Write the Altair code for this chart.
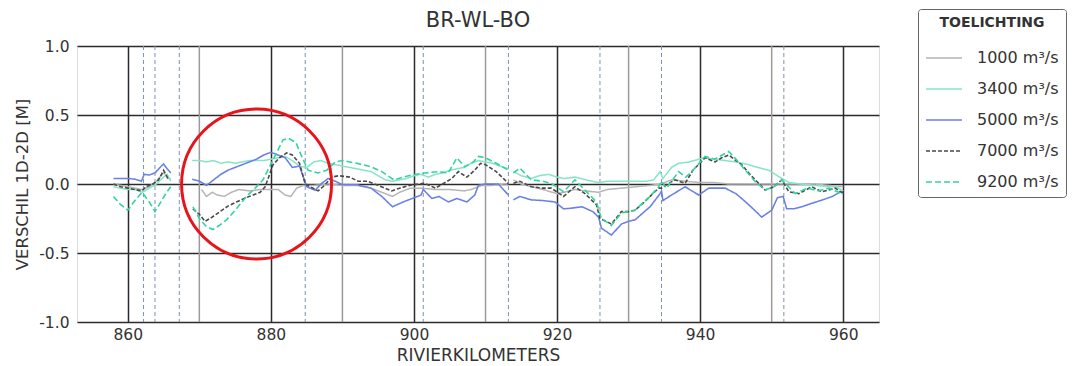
import altair as alt
import pandas as pd

# ---------------- data ----------------
series_labels = ["1000 m³/s", "3400 m³/s", "5000 m³/s", "7000 m³/s", "9200 m³/s"]
series_colors = ["#b5b5b5", "#86e6c4", "#6a80e6", "#4a4a4a", "#33d49c"]

q1000_km = [858, 859, 860, 861, 862, 863, 864, 865, 865.5, 866,
            870.3, 871, 871.8, 872.5, 873.5, 874.5, 875.5, 877, 878.5, 880, 881, 882, 882.8, 883.6, 884.5, 886, 888,
            890, 892, 894, 896, 897, 898, 899.5, 901, 903, 905, 907, 908, 909.5, 911, 912.5, 913.2,
            913.9, 915, 916.5, 918, 920, 921, 922.5, 924, 925.8, 927, 929, 931, 933, 934.5, 936, 938, 940, 942,
            944, 946, 948, 950, 952, 954, 956, 958, 960]
q1000_val = [0.0, -0.01, -0.02, -0.03, -0.04, -0.02, 0.02, 0.08, 0.06, 0.03,
             -0.04, -0.09, -0.06, -0.08, -0.09, -0.06, -0.04, -0.05, -0.04, -0.04, -0.04, -0.08, -0.09, -0.03, -0.01, -0.01, 0.0,
             -0.01, -0.01, -0.03, -0.07, -0.09, -0.06, -0.03, -0.03, -0.04, -0.04, -0.05, -0.04, -0.01, -0.01, 0.0, 0.0,
             0.03, 0.0, -0.02, -0.04, -0.07, -0.06, -0.04, -0.05, -0.06, -0.04, -0.03, -0.02, -0.01, 0.0, 0.03, 0.02, 0.01, 0.01,
             0.0, 0.0, 0.0, 0.0, 0.0, 0.0, 0.0, -0.01, -0.02]

q3400_km = [858, 859, 860, 861, 862, 863, 864, 865, 865.5, 866,
            869, 870, 871, 872, 873, 874, 875, 876, 877, 878, 879, 880, 881, 882, 883, 884, 885, 886, 887, 888,
            889, 890, 891, 892, 893, 894, 895, 896, 897, 898, 899, 900, 901, 902, 903, 904, 905, 906, 907, 908,
            909, 910, 911, 912, 913.2,
            913.9, 915, 916.4, 917.5, 918.8, 920, 921, 922.5, 924, 925.8, 927, 929, 931, 932.5, 933.5, 934.4,
            934.8, 936, 937, 938.5, 940.5, 942, 943.5, 945, 946.8, 948, 949.6, 950.5, 951.4, 952.5, 954, 956,
            958, 959, 960]
q3400_val = [-0.02, -0.03, -0.04, -0.04, -0.06, -0.03, 0.0, 0.05, 0.07, 0.02,
             0.17, 0.17, 0.16, 0.17, 0.15, 0.16, 0.15, 0.16, 0.17, 0.17, 0.17, 0.18, 0.19, 0.2, 0.17, 0.13, 0.12, 0.16, 0.17, 0.15,
             0.14, 0.13, 0.12, 0.11, 0.1, 0.09, 0.06, 0.03, 0.02, 0.03, 0.04, 0.06, 0.07, 0.05, 0.07, 0.08, 0.1, 0.11, 0.12, 0.15,
             0.17, 0.16, 0.15, 0.13, 0.11,
             0.09, 0.06, 0.04, 0.06, 0.07, 0.05, 0.04, 0.05, 0.03, 0.01, 0.02, 0.02, 0.02, 0.02, 0.03, 0.09,
             0.04, 0.12, 0.15, 0.16, 0.19, 0.18, 0.17, 0.16, 0.14, 0.12, 0.1, 0.07, 0.04, 0.01, 0.0, -0.01,
             -0.02, -0.02, -0.05]

q5000_km = [858, 859, 860, 861, 861.9, 862.3, 863, 863.8, 864.5, 865, 865.5, 866,
            869, 870, 871, 872, 873, 874, 875, 876, 877, 878, 879, 880, 881, 882, 883, 884, 885, 886.2, 887, 888,
            889, 890, 892, 894, 895.5, 897, 898.5, 900, 901, 901.3, 902.5, 903.5, 904.8, 906, 907.4, 908.5, 909,
            910, 911.8, 913.2,
            913.9, 914.8, 916.4, 918, 919.7, 920.9, 922, 923.5, 925, 925.8, 926.2, 927.6, 929, 930, 930.9, 932,
            933, 934.4, 934.6, 934.8, 936, 937.9, 939.8, 941.2, 943.5, 945, 945.8, 947, 948.6, 950, 950.8, 951.6,
            952.1, 953.1, 954.5, 955.6, 957, 958.5, 959.6, 960]
q5000_val = [0.04, 0.04, 0.04, 0.035, 0.02, 0.07, 0.065, 0.08, 0.12, 0.145, 0.11, 0.08,
             0.035, 0.02, -0.01, 0.03, 0.07, 0.1, 0.12, 0.14, 0.16, 0.18, 0.21, 0.23, 0.21, 0.19, 0.12, 0.13, -0.02, -0.045, 0.0, 0.04,
             0.02, -0.005, -0.005, -0.03, -0.09, -0.165, -0.13, -0.1, -0.08, -0.04, -0.105, -0.09, -0.13, -0.105, -0.13, -0.08, -0.01,
             0.0, 0.0, -0.08,
             -0.115, -0.09, -0.115, -0.12, -0.13, -0.18, -0.175, -0.165, -0.2, -0.24, -0.32, -0.37, -0.29, -0.27, -0.26, -0.21,
             -0.165, -0.07, -0.05, -0.12, -0.08, -0.02, -0.08, -0.03, -0.03, -0.07, -0.105, -0.16, -0.24, -0.19, -0.1, -0.09,
             -0.18, -0.18, -0.16, -0.14, -0.117, -0.09, -0.056, -0.07]

q7000_km = [858, 859, 860, 861, 862, 862.5, 863.5, 864.3, 865, 865.7,
            869.1, 870, 870.8, 871.5, 872.9, 874, 875.2, 876.5, 877.5, 878.5, 879.2, 880.3, 881.2, 882.2, 883, 884,
            884.8, 885.5, 886.6, 887.5, 888.5, 889.5, 891, 892.2, 893.5, 895, 896.9, 898, 899.7, 901.5, 903, 904,
            905.3, 906.2, 907.4, 908.5, 909.3, 910, 911.5, 912.7, 913.2,
            913.9, 914.8, 916.4, 918, 919.2, 920.9, 922.5, 923.9, 925.5, 926, 927.6, 929, 930, 930.9, 932, 933,
            934.2, 934.6, 935.5, 936.5, 937.9, 939, 940.7, 942.1, 943, 944, 945, 945.8, 946.8, 947.7, 949.1, 950.3,
            951.4, 952.4, 953.8, 955.6, 957, 958.9, 959.6, 960]
q7000_val = [0.0, -0.02, -0.03, -0.04, -0.05, -0.02, 0.0, 0.03, 0.1, 0.03,
             -0.18, -0.22, -0.27, -0.25, -0.2, -0.16, -0.13, -0.1, -0.08, -0.06, -0.02, 0.14, 0.19, 0.225, 0.21, 0.15,
             0.0, -0.02, -0.05, -0.01, 0.05, 0.06, 0.05, 0.02, 0.02, -0.01, -0.05, -0.03, -0.007, 0.005, -0.03, 0.0,
             0.04, 0.09, 0.05, 0.1, 0.15, 0.14, 0.09, 0.03, 0.0,
             0.005, 0.02, -0.02, -0.03, -0.03, -0.09, -0.02, -0.07, -0.15, -0.25, -0.29, -0.2, -0.2, -0.19, -0.14, -0.09,
             -0.03, -0.03, 0.0, 0.03, 0.005, 0.1, 0.19, 0.16, 0.19, 0.21, 0.17, 0.14, 0.08, 0.03, -0.044, -0.02,
             0.03, -0.056, -0.07, -0.02, -0.056, -0.03, -0.056, -0.06]

q9200_km = [858, 859, 860, 861, 862, 863, 863.8, 864.5, 865.3, 866,
            869.1, 870, 871, 871.9, 872.8, 873.8, 875, 876.6, 877.8, 878.9, 880.3, 881.7, 882.5, 883.5, 884.3, 885.2,
            886.6, 887.8, 889, 890, 892, 894, 895.5, 897.2, 898.5, 899.7, 901.5, 903.4, 904.8, 906, 907.1, 908.3,
            909, 910, 911.5, 912.7, 913.2,
            913.9, 914.8, 916.4, 918, 919.2, 920.9, 922.5, 923.9, 925.5, 926.2, 927.6, 929, 930.9, 933, 934.2, 934.6,
            935.3, 937, 938, 939, 940.7, 942, 944, 945, 946, 947.7, 949.1, 950.3, 951.4, 953.3, 955, 956.5, 958, 959.8]
q9200_val = [-0.09, -0.15, -0.19, -0.12, -0.06, -0.13, -0.2, -0.14, -0.07, -0.02,
             -0.165, -0.25, -0.31, -0.33, -0.3, -0.26, -0.19, -0.09, -0.03, 0.03, 0.175, 0.32, 0.33, 0.3, 0.2, 0.1,
             0.08, 0.1, 0.16, 0.17, 0.15, 0.125, 0.09, 0.03, 0.05, 0.065, 0.08, 0.09, 0.08, 0.19, 0.125, 0.16,
             0.2, 0.19, 0.15, 0.115, 0.1,
             0.08, 0.115, 0.03, 0.02, 0.005, -0.056, 0.03, -0.044, -0.13, -0.25, -0.3, -0.21, -0.19, -0.09, -0.02, 0.02,
             -0.03, 0.09, 0.05, 0.1, 0.2, 0.18, 0.235, 0.18, 0.12, 0.017, -0.044, -0.02, 0.03, -0.07, -0.03, -0.05, -0.03, -0.07]

major_km = [860, 880, 900, 920, 940, 960]
minor_km = [870, 890, 910, 930, 950]
section_km = [862.2, 863.8, 867.2, 884.8, 901.3, 913.2, 926.0, 934.6, 951.7]
y_ticks = [-1.0, -0.5, 0.0, 0.5, 1.0]
circle_km = [878.0]
circle_val = [0.0]
chart_title = "BR-WL-BO"

# ---------------- build table ----------------
rows = []
all_series = [(q1000_km, q1000_val), (q3400_km, q3400_val), (q5000_km, q5000_val),
              (q7000_km, q7000_val), (q9200_km, q9200_val)]
for i, (kms, vals) in enumerate(all_series):
    for k, v in zip(kms, vals):
        seg = 0 if k < 867 else (1 if k < 913.5 else 2)
        rows.append({"km": k, "val": v, "serie": series_labels[i], "seg": f"{i}-{seg}"})
df = pd.DataFrame(rows)

FONT = "DejaVu Sans"
TXT = "#333333"
W, H = 802, 276
x_scale = alt.Scale(domain=[852.9, 965], nice=False, zero=False)
y_scale = alt.Scale(domain=[-1, 1], nice=False)

legend_cfg = dict(
    title="TOELICHTING", orient="none", legendX=841, legendY=-37,
    strokeColor="#666666", fillColor="white", cornerRadius=3, padding=7,
    symbolType="stroke", symbolSize=1296, symbolStrokeWidth=2,
    labelFont=FONT, labelFontSize=16, labelColor=TXT, labelOffset=14,
    titleFont=FONT, titleFontSize=14, titleFontWeight="bold", titleColor=TXT,
    titleAnchor="middle", titleAlign="center", titlePadding=9, rowPadding=4,
)

minor = alt.Chart(pd.DataFrame({"km": minor_km})).mark_rule(color="#9a9a9a", strokeWidth=1.5).encode(
    x=alt.X("km:Q", scale=x_scale)
)
sections = alt.Chart(pd.DataFrame({"km": section_km})).mark_rule(
    color="#7d92b3", strokeWidth=1, strokeDash=[4, 3]
).encode(x=alt.X("km:Q", scale=x_scale))

lines = alt.Chart(df).mark_line(strokeCap="butt").encode(
    x=alt.X("km:Q", scale=x_scale, axis=alt.Axis(
        values=major_km, format="d", grid=True, ticks=False, domain=False,
        gridColor="#2b2b2b", gridWidth=1.5, labelFont=FONT, labelFontSize=15.5, labelColor=TXT,
        labelPadding=5, title="RIVIERKILOMETERS", titleFont=FONT, titleFontSize=17,
        titleFontWeight="normal", titleColor=TXT, titleBaseline="alphabetic", titleY=38)),
    y=alt.Y("val:Q", scale=y_scale, axis=alt.Axis(
        values=y_ticks, grid=True, ticks=False, domain=False,
        gridColor="#2b2b2b", gridWidth=1.5, labelFont=FONT, labelFontSize=15.5, labelColor=TXT,
        labelPadding=8, labelExpr="replace(format(datum.value, '.1f'), '−', '-')",
        title="VERSCHIL 1D-2D [M]", titleFont=FONT, titleFontSize=16.5, titleFontWeight="normal",
        titleColor=TXT, titlePadding=8)),
    color=alt.Color("serie:N", scale=alt.Scale(domain=series_labels, range=series_colors),
                    legend=alt.Legend(**legend_cfg)),
    strokeDash=alt.StrokeDash("serie:N", scale=alt.Scale(domain=series_labels,
                              range=[[1, 0], [1, 0], [1, 0], [4, 2], [6, 3]]),
                              legend=alt.Legend(**legend_cfg)),
    strokeWidth=alt.StrokeWidth("serie:N", scale=alt.Scale(domain=series_labels,
                                range=[1.5, 1.6, 1.8, 1.8, 2.4]), legend=None),
    detail="seg:N",
    order=alt.Order("km:Q"),
)

circle = alt.Chart(pd.DataFrame({"km": circle_km, "val": circle_val})).mark_point(
    shape="circle", size=22500, filled=False, color="#e8141c", strokeWidth=3, opacity=1
).encode(x=alt.X("km:Q", scale=x_scale), y=alt.Y("val:Q", scale=y_scale))

title_mark = alt.Chart(pd.DataFrame({"t": [chart_title]})).mark_text(
    font=FONT, fontSize=21, color=TXT, align="center", baseline="alphabetic"
).encode(text="t:N", x=alt.value(W / 2), y=alt.value(-19))

chart = alt.layer(minor, sections, lines, circle, title_mark).properties(
    width=W, height=H,
    autosize=alt.AutoSizeParams(type="none"),
    padding={"left": 69, "top": 38, "right": 188, "bottom": 44},
).configure_view(stroke="#111111", strokeWidth=2).configure(font=FONT)

chart.save("out.html", embed_options={"renderer": "svg", "actions": False})
